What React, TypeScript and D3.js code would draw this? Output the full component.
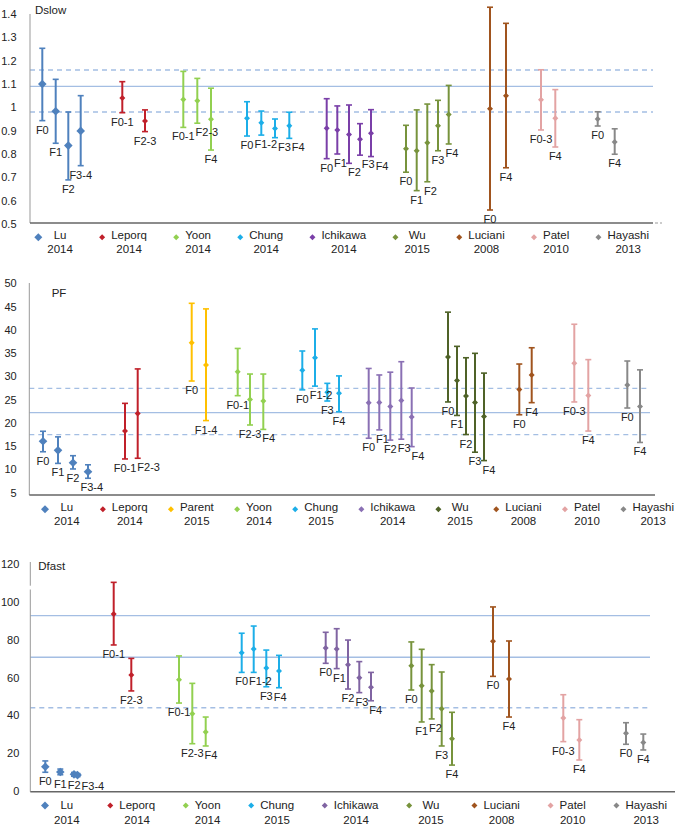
import React from 'react';
import * as d3 from 'd3';

const FONT = "'Liberation Sans', Arial, Helvetica, sans-serif";

// ---------- Data ----------
// Studies shown in each panel: [name, year]
const dslowStudies = [['Lu', '2014'], ['Leporq', '2014'], ['Yoon', '2014'], ['Chung', '2014'], ['Ichikawa', '2014'], ['Wu', '2015'], ['Luciani', '2008'], ['Patel', '2010'], ['Hayashi', '2013']];
const pfStudies = [['Lu', '2014'], ['Leporq', '2014'], ['Parent', '2015'], ['Yoon', '2014'], ['Chung', '2015'], ['Ichikawa', '2014'], ['Wu', '2015'], ['Luciani', '2008'], ['Patel', '2010'], ['Hayashi', '2013']];
const dfastStudies = [['Lu', '2014'], ['Leporq', '2014'], ['Yoon', '2014'], ['Chung', '2015'], ['Ichikawa', '2014'], ['Wu', '2015'], ['Luciani', '2008'], ['Patel', '2010'], ['Hayashi', '2013']];

// Points: [study, fibrosis stage, x (scatter position), mean, lower, upper]
const dslowPoints: [string, string, number, number, number, number][] = [
  ['Lu', 'F0', 1.23, 1.10, 0.943, 1.253], ['Lu', 'F1', 2.57, 0.983, 0.846, 1.12], ['Lu', 'F2', 3.83, 0.836, 0.689, 0.98], ['Lu', 'F3-4', 5.07, 0.899, 0.75, 1.05],
  ['Leporq', 'F0-1', 9.23, 1.04, 0.977, 1.11], ['Leporq', 'F2-3', 11.5, 0.941, 0.896, 0.989],
  ['Yoon', 'F0-1', 15.33, 1.034, 0.914, 1.154], ['Yoon', 'F2-3', 16.73, 1.028, 0.932, 1.124], ['Yoon', 'F4', 18.1, 0.949, 0.817, 1.082],
  ['Chung', 'F0', 21.7, 0.953, 0.877, 1.024], ['Chung', 'F1-2', 23.13, 0.934, 0.881, 0.984], ['Chung', 'F3', 24.5, 0.909, 0.87, 0.95], ['Chung', 'F4', 25.93, 0.921, 0.867, 0.979],
  ['Ichikawa', 'F0', 29.67, 0.91, 0.78, 1.037], ['Ichikawa', 'F1', 30.73, 0.903, 0.80, 1.006], ['Ichikawa', 'F2', 31.9, 0.884, 0.76, 1.01], ['Ichikawa', 'F3', 33.0, 0.863, 0.795, 0.93], ['Ichikawa', 'F4', 34.1, 0.889, 0.789, 0.99],
  ['Wu', 'F0', 37.6, 0.823, 0.722, 0.923], ['Wu', 'F1', 38.67, 0.814, 0.643, 0.989], ['Wu', 'F2', 39.73, 0.848, 0.681, 1.014], ['Wu', 'F3', 40.8, 0.921, 0.814, 1.03], ['Wu', 'F4', 41.87, 0.969, 0.843, 1.094],
  ['Luciani', 'F0', 46.0, 0.994, 0.56, 1.429], ['Luciani', 'F4', 47.6, 1.05, 0.741, 1.36],
  ['Patel', 'F0-3', 51.1, 1.033, 0.903, 1.161], ['Patel', 'F4', 52.53, 0.953, 0.83, 1.076],
  ['Hayashi', 'F0', 56.77, 0.95, 0.92, 0.981], ['Hayashi', 'F4', 58.47, 0.851, 0.799, 0.908],
];
const pfPoints: [string, string, number, number, number, number][] = [
  ['Lu', 'F0', 1.3, 16.05, 13.8, 18.2], ['Lu', 'F1', 2.8, 14.1, 11.3, 17.0], ['Lu', 'F2', 4.3, 11.45, 10.1, 12.95], ['Lu', 'F3-4', 5.8, 9.5, 8.1, 11.0],
  ['Leporq', 'F0-1', 9.5, 18.25, 12.25, 24.2], ['Leporq', 'F2-3', 10.77, 22.0, 12.4, 31.6],
  ['Parent', 'F0', 16.17, 37.2, 29.0, 45.7], ['Parent', 'F1-4', 17.6, 32.45, 20.5, 44.5],
  ['Yoon', 'F0-1', 20.77, 31.0, 25.85, 36.0], ['Yoon', 'F2-3', 22.0, 25.05, 19.55, 30.5], ['Yoon', 'F4', 23.33, 24.7, 18.6, 30.5],
  ['Chung', 'F0', 27.23, 31.3, 27.1, 35.45], ['Chung', 'F1-2', 28.5, 34.0, 27.9, 40.2], ['Chung', 'F3', 29.73, 26.6, 24.7, 28.5], ['Chung', 'F4', 30.9, 26.35, 22.4, 30.1],
  ['Ichikawa', 'F0', 33.87, 24.35, 16.7, 31.7], ['Ichikawa', 'F1', 34.93, 24.4, 18.5, 30.3], ['Ichikawa', 'F2', 36.03, 23.55, 16.3, 30.9], ['Ichikawa', 'F3', 37.13, 24.8, 16.5, 33.15], ['Ichikawa', 'F4', 38.17, 21.25, 14.9, 27.5],
  ['Wu', 'F0', 41.8, 34.15, 24.5, 43.8], ['Wu', 'F1', 42.7, 29.1, 21.6, 36.45], ['Wu', 'F2', 43.6, 25.8, 17.5, 34.0], ['Wu', 'F3', 44.5, 24.4, 13.7, 34.95], ['Wu', 'F4', 45.4, 21.35, 11.9, 30.7],
  ['Luciani', 'F0', 48.93, 27.2, 21.75, 32.65], ['Luciani', 'F4', 50.17, 30.3, 24.35, 36.15],
  ['Patel', 'F0-3', 54.43, 32.8, 24.5, 41.2], ['Patel', 'F4', 55.83, 25.9, 18.25, 33.6],
  ['Hayashi', 'F0', 59.73, 28.15, 23.2, 33.3], ['Hayashi', 'F4', 61.0, 23.55, 15.8, 31.4],
];
const dfastPoints: [string, string, number, number, number, number][] = [
  ['Lu', 'F0', 1.53, 12.85, 9.9, 15.9], ['Lu', 'F1', 3.03, 10.05, 8.6, 11.6], ['Lu', 'F2', 4.4, 8.8, 7.8, 9.8], ['Lu', 'F3-4', 4.75, 8.4, 7.6, 9.2],
  ['Leporq', 'F0-1', 8.37, 93.6, 77.2, 110.3], ['Leporq', 'F2-3', 10.13, 61.3, 52.9, 70.1],
  ['Yoon', 'F0-1', 14.9, 58.85, 46.5, 71.4], ['Yoon', 'F2-3', 16.23, 40.9, 25.0, 56.9], ['Yoon', 'F4', 17.57, 31.2, 23.8, 39.1],
  ['Chung', 'F0', 21.17, 73.1, 62.7, 83.4], ['Chung', 'F1-2', 22.37, 75.1, 62.7, 87.2], ['Chung', 'F3', 23.63, 65.0, 55.1, 74.5], ['Chung', 'F4', 24.9, 63.4, 54.6, 71.7],
  ['Ichikawa', 'F0', 29.57, 75.6, 67.5, 83.9], ['Ichikawa', 'F1', 30.67, 75.1, 64.7, 85.8], ['Ichikawa', 'F2', 31.8, 66.8, 53.9, 79.8], ['Ichikawa', 'F3', 32.93, 59.9, 52.0, 68.4], ['Ichikawa', 'F4', 34.1, 54.8, 47.7, 62.7],
  ['Wu', 'F0', 38.13, 66.2, 53.4, 78.8], ['Wu', 'F1', 39.17, 55.7, 36.5, 74.9], ['Wu', 'F2', 40.17, 52.9, 38.1, 66.8], ['Wu', 'F3', 41.17, 43.5, 23.8, 62.9], ['Wu', 'F4', 42.2, 27.6, 13.7, 41.6],
  ['Luciani', 'F0', 46.3, 79.1, 60.6, 97.3], ['Luciani', 'F4', 47.9, 59.2, 39.1, 79.3],
  ['Patel', 'F0-3', 53.33, 38.6, 26.1, 50.9], ['Patel', 'F4', 54.93, 27.0, 16.4, 37.7],
  ['Hayashi', 'F0', 59.6, 30.5, 24.7, 36.1], ['Hayashi', 'F4', 61.33, 25.7, 21.7, 30.1],
];

// Reference lines: [value, dashed]
const dslowRefs: [number, boolean][] = [[1.16, true], [1.09, false], [0.98, true]];
const pfRefs: [number, boolean][] = [[27.4, true], [22.2, false], [17.5, true]];
const dfastRefs: [number, boolean][] = [[92.7, false], [70.7, false], [44.0, true]];

// Tick values
const dslowTicks = [0.5, 0.6, 0.7, 0.8, 0.9, 1.0, 1.1, 1.2, 1.3, 1.4];
const pfTicks = [5, 10, 15, 20, 25, 30, 35, 40, 45, 50];
const dfastTicks = [0, 20, 40, 60, 80, 100, 120];

// ---------- Styles ----------
const baseColors: Record<string, string> = {
  Lu: '#4F81BD', Leporq: '#C0202A', Parent: '#FFC000', Yoon: '#92D050', Chung: '#1CAEE8',
  Ichikawa: '#8064A2', Wu: '#77933C', Luciani: '#A0541E', Patel: '#E3A3A3', Hayashi: '#888888',
};
const dslowColors = { ...baseColors, Ichikawa: '#7A3FA8' };
const pfColors = { ...baseColors, Ichikawa: '#8A70B4', Wu: '#4F6228' };
const dfastColors = { ...baseColors };

const TEXT = '#222';
const REF = '#A4BEE3';

let measureCtx: CanvasRenderingContext2D | null = null;
function textWidth(s: string, size: number): number {
  try {
    if (!measureCtx) measureCtx = document.createElement('canvas').getContext('2d');
    if (measureCtx) {
      measureCtx.font = `${size}px 'Liberation Sans', Arial, sans-serif`;
      return measureCtx.measureText(s).width;
    }
  } catch (e) { /* ignore */ }
  return s.length * size * 0.56;
}

const xScale = d3.scaleLinear().domain([0, 64]).range([30, 670]);

const panels = [
  {
    key: 'dslow', title: 'Dslow', titleX: 35, titleY: 13.5,
    y: d3.scaleLinear().domain([0.5, 1.4]).range([224, 14]),
    ticks: dslowTicks, tickX: 16.5, axisX: 30, axisTop: 14, axisY: 223, axisRight: 653, axisBreak: null as null | [number, number],
    refRight: 653, refs: dslowRefs, points: dslowPoints, studies: dslowStudies, colors: dslowColors,
    legend: { nameY: 238.7, yearY: 253, markerY: 237.3, start: 38.3, end: 649 }, tail: true,
  },
  {
    key: 'pf', title: 'PF', titleX: 51.7, titleY: 296.7,
    y: d3.scaleLinear().domain([5, 50]).range([492.7, 283.3]),
    ticks: pfTicks, tickX: 16.7, axisX: 29.3, axisTop: 283, axisY: 495, axisRight: 655, axisBreak: null,
    refRight: 650, refs: pfRefs, points: pfPoints, studies: pfStudies, colors: pfColors,
    legend: { nameY: 510.8, yearY: 524.8, markerY: 509.3, start: 45, end: 674 }, tail: false,
  },
  {
    key: 'dfast', title: 'Dfast', titleX: 38.3, titleY: 569.7,
    y: d3.scaleLinear().domain([0, 120]).range([791, 564]),
    ticks: dfastTicks, tickX: 19.3, axisX: 30.3, axisTop: 562, axisY: 791.7, axisRight: 675, axisBreak: [585.7, 589.5] as [number, number],
    refRight: 650, refs: dfastRefs, points: dfastPoints, studies: dfastStudies, colors: dfastColors,
    legend: { nameY: 809, yearY: 824, markerY: 805.5, start: 45, end: 667 }, tail: false,
  },
];

function diamond(cx: number, cy: number, r: number) {
  const p = d3.path();
  p.moveTo(cx, cy - r); p.lineTo(cx + r, cy); p.lineTo(cx, cy + r); p.lineTo(cx - r, cy); p.closePath();
  return p.toString();
}

function tickLabel(v: number) {
  return String(+v.toFixed(1));
}

function Panel({ cfg }: { cfg: typeof panels[number] }) {
  const y = cfg.y;
  const LABEL_SIZE = 11;
  // label layout: centered below lower whisker, pushed right if it collides
  const placed: { x: number; y: number; w: number }[] = [];
  const labels = cfg.points
    .map((p, i) => ({ i, text: p[1], x: xScale(p[2]), cy: y(p[4]) + 9, w: textWidth(p[1], LABEL_SIZE) }))
    .sort((a, b) => a.x - b.x)
    .map((l) => {
      let cx = l.x;
      for (let iter = 0; iter < 6; iter++) {
        let moved = false;
        for (const q of placed) {
          if (Math.abs(q.y - l.cy) < 9.5) {
            const overlap = (q.x + q.w / 2 + 1) - (cx - l.w / 2);
            if (overlap > 0 && cx >= q.x) { cx += overlap; moved = true; }
          }
        }
        if (!moved) break;
      }
      placed.push({ x: cx, y: l.cy, w: l.w });
      return { ...l, cx };
    });

  // legend: justified flow of marker + centered two-line text block
  const LEG_SIZE = 11.5;
  const gapMarker = 9;
  const widths = cfg.studies.map(([n, yr]) => Math.max(textWidth(n, LEG_SIZE), textWidth(yr, LEG_SIZE)));
  const total = widths.reduce((a, b) => a + b + gapMarker, 0);
  const gap = (cfg.legend.end - cfg.legend.start - total) / (cfg.studies.length - 1);
  let cursor = cfg.legend.start;
  const legendItems = cfg.studies.map(([n, yr], i) => {
    const mx = cursor;
    const cx = mx + gapMarker + widths[i] / 2;
    cursor = mx + gapMarker + widths[i] + gap;
    return { n, yr, mx, cx };
  });

  return (
    <g>
      {/* reference lines */}
      {cfg.refs.map(([v, dashed], i) => (
        <line key={'r' + i} x1={cfg.axisX} x2={cfg.refRight} y1={y(v)} y2={y(v)} stroke={REF}
          strokeWidth={1.3} strokeDasharray={dashed ? '5,4' : undefined} />
      ))}
      {/* y axis */}
      {cfg.axisBreak ? (
        <g>
          <line x1={cfg.axisX} x2={cfg.axisX} y1={cfg.axisTop} y2={cfg.axisBreak[0]} stroke="#999" strokeWidth={1} />
          <line x1={cfg.axisX} x2={cfg.axisX} y1={cfg.axisBreak[1]} y2={cfg.axisY} stroke="#999" strokeWidth={1} />
        </g>
      ) : (
        <line x1={cfg.axisX} x2={cfg.axisX} y1={cfg.axisTop} y2={cfg.axisY} stroke="#999" strokeWidth={1} />
      )}
      {cfg.ticks.map((t) => (
        <text key={'t' + t} x={cfg.tickX} y={y(t) + 4} textAnchor="end" fontSize={11} fill={TEXT} fontFamily={FONT}>{tickLabel(t)}</text>
      ))}
      {/* x axis */}
      <line x1={cfg.axisX} x2={cfg.axisRight} y1={cfg.axisY} y2={cfg.axisY} stroke="#666" strokeWidth={1.6} />
      {cfg.tail && (
        <line x1={cfg.axisRight + 2} x2={cfg.axisRight + 9} y1={cfg.axisY} y2={cfg.axisY} stroke="#999" strokeWidth={1.2} strokeDasharray="3,2" />
      )}
      <text x={cfg.titleX} y={cfg.titleY} fontSize={11.5} fill={TEXT} fontFamily={FONT}>{cfg.title}</text>
      {/* error bars and markers */}
      {cfg.points.map((p, i) => {
        const col = cfg.colors[p[0]];
        const x = xScale(p[2]);
        const r = p[0] === 'Lu' ? 4.3 : 3;
        return (
          <g key={'p' + i}>
            <line x1={x} x2={x} y1={y(p[4])} y2={y(p[5])} stroke={col} strokeWidth={2} />
            <line x1={x - 3} x2={x + 3} y1={y(p[4])} y2={y(p[4])} stroke={col} strokeWidth={1.6} />
            <line x1={x - 3} x2={x + 3} y1={y(p[5])} y2={y(p[5])} stroke={col} strokeWidth={1.6} />
            <path d={diamond(x, y(p[3]), r)} fill={col} />
          </g>
        );
      })}
      {labels.map((l) => (
        <text key={'l' + l.i} x={l.cx} y={l.cy + 4} textAnchor="middle" fontSize={LABEL_SIZE} fill={TEXT} fontFamily={FONT}>{l.text}</text>
      ))}
      {/* legend */}
      {legendItems.map((it) => (
        <g key={'g' + it.n}>
          <path d={diamond(it.mx, cfg.legend.markerY, it.n === 'Lu' ? 4 : 3)} fill={cfg.colors[it.n]} />
          <text x={it.cx} y={cfg.legend.nameY} textAnchor="middle" fontSize={LEG_SIZE} fill={TEXT} fontFamily={FONT}>{it.n}</text>
          <text x={it.cx} y={cfg.legend.yearY} textAnchor="middle" fontSize={LEG_SIZE} fill={TEXT} fontFamily={FONT}>{it.yr}</text>
        </g>
      ))}
    </g>
  );
}

export default function App() {
  return (
    <svg width={682} height={828} viewBox="0 0 682 828"
      style={{ position: 'absolute', left: 0, top: 0, background: '#fff' }}>
      <rect x={0} y={0} width={682} height={828} fill="#fff" />
      {panels.map((p) => <Panel key={p.key} cfg={p} />)}
    </svg>
  );
}
